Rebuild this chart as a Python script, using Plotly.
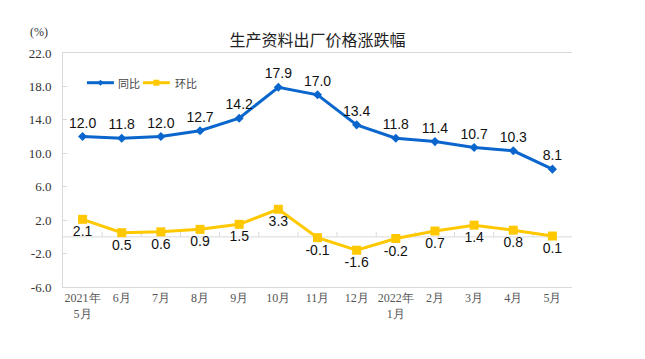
import plotly.graph_objects as go

categories = ["2021年<br>5月", "6月", "7月", "8月", "9月", "10月", "11月", "12月",
              "2022年<br>1月", "2月", "3月", "4月", "5月"]
yoy = [12.0, 11.8, 12.0, 12.7, 14.2, 17.9, 17.0, 13.4, 11.8, 11.4, 10.7, 10.3, 8.1]
mom = [2.1, 0.5, 0.6, 0.9, 1.5, 3.3, -0.1, -1.6, -0.2, 0.7, 1.4, 0.8, 0.1]
series_names = ["同比", "环比"]
y_ticks = [22.0, 18.0, 14.0, 10.0, 6.0, 2.0, -2.0, -6.0]

BLUE = "#0A66CC"
YELLOW = "#FFC800"
x = list(range(len(categories)))

fig = go.Figure()
fig.add_trace(go.Scatter(
    x=x, y=yoy, name=series_names[0], mode="lines+markers+text",
    line=dict(color=BLUE, width=3),
    marker=dict(symbol="diamond", size=7, color=BLUE),
    text=[f"{v:.1f}" for v in yoy], textposition="top center",
    textfont=dict(family="Liberation Sans, Arial", size=14, color="#111"),
    cliponaxis=False, showlegend=False,
))
fig.add_trace(go.Scatter(
    x=x, y=mom, name=series_names[1], mode="lines+markers+text",
    line=dict(color=YELLOW, width=3),
    marker=dict(symbol="square", size=9, color=YELLOW),
    text=[f"{v:.1f}" for v in mom], textposition="bottom center",
    textfont=dict(family="Liberation Sans, Arial", size=14, color="#111"),
    cliponaxis=False, showlegend=False,
))

# zero line and tick marks between categories
shapes = [dict(type="line", xref="paper", yref="y", x0=0, x1=1, y0=0, y1=0,
               line=dict(color="#D9D9D9", width=1), layer="below")]
for i in range(len(categories) - 1):
    shapes.append(dict(type="line", xref="x", yref="y", ysizemode="pixel", yanchor=0,
                       x0=i + 0.5, x1=i + 0.5, y0=0, y1=5,
                       line=dict(color="#D9D9D9", width=1), layer="below"))

# custom legend
LEG_Y = 0.873
shapes += [
    dict(type="line", xref="paper", yref="paper", x0=0.047, x1=0.100, y0=LEG_Y, y1=LEG_Y,
         line=dict(color=BLUE, width=3)),
    dict(type="path", xref="paper", yref="paper", xsizemode="pixel", ysizemode="pixel",
         xanchor=0.0735, yanchor=LEG_Y, path="M0,3 L3,0 L0,-3 L-3,0 Z",
         fillcolor=BLUE, line=dict(width=0)),
    dict(type="line", xref="paper", yref="paper", x0=0.157, x1=0.210, y0=LEG_Y, y1=LEG_Y,
         line=dict(color=YELLOW, width=3)),
    dict(type="rect", xref="paper", yref="paper", xsizemode="pixel", ysizemode="pixel",
         xanchor=0.1835, yanchor=LEG_Y, x0=-3, x1=3, y0=-3, y1=3,
         fillcolor=YELLOW, line=dict(width=0)),
]

fig.update_layout(
    width=645, height=359,
    margin=dict(l=55, r=81, t=45, b=80),
    paper_bgcolor="white", plot_bgcolor="white",
    title=dict(text="生产资料出厂价格涨跌幅", x=0.48, xanchor="center", y=0.91, yanchor="middle",
               font=dict(family="Noto Sans CJK SC", size=16, color="#222")),
    xaxis=dict(tickmode="array", tickvals=x, ticktext=categories, range=[-0.5, 12.5],
               showgrid=False, zeroline=False, showline=True, linecolor="#D9D9D9", mirror=True,
               ticks="", tickfont=dict(family="Liberation Serif, Times New Roman", size=12, color="#555")),
    yaxis=dict(tickmode="array", tickvals=y_ticks, ticktext=[f"{v:.1f}" for v in y_ticks],
               range=[-6, 22], showgrid=False, zeroline=False, showline=True, linecolor="#D9D9D9",
               mirror=False, ticks="inside", ticklen=4, tickcolor="#D9D9D9", ticklabelstandoff=8,
               tickfont=dict(family="Liberation Serif, Times New Roman", size=13, color="#333")),
    yaxis2=dict(overlaying="y", side="right", range=[-6, 22], showline=True, linecolor="#D9D9D9",
                showticklabels=False, ticks="", showgrid=False, zeroline=False),
    shapes=shapes,
    annotations=[
        dict(text="(%)", xref="paper", yref="paper", x=-0.025, y=1.09,
             xanchor="right", yanchor="middle", showarrow=False,
             font=dict(family="Liberation Serif, Times New Roman", size=12, color="#333")),
        dict(text=series_names[0], xref="paper", yref="paper", x=0.104, y=LEG_Y,
             xanchor="left", yanchor="middle", showarrow=False,
             font=dict(family="Noto Sans CJK SC", size=11, color="#444")),
        dict(text=series_names[1], xref="paper", yref="paper", x=0.216, y=LEG_Y,
             xanchor="left", yanchor="middle", showarrow=False,
             font=dict(family="Noto Sans CJK SC", size=11, color="#444")),
    ],
)

fig.write_html("out.html")
